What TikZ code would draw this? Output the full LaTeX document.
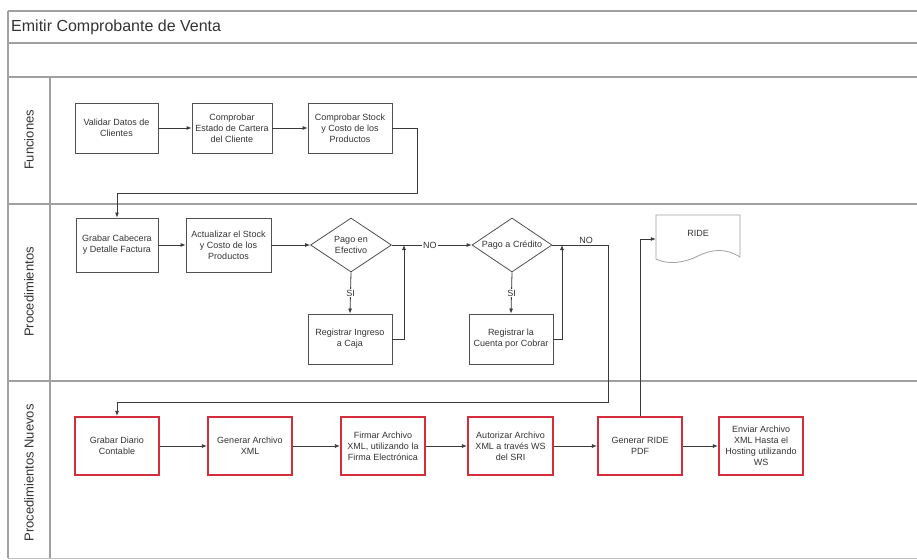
\documentclass[tikz,border=0pt]{standalone}
\usepackage{fontspec}
\setmainfont{Liberation Sans}
\usetikzlibrary{shapes.geometric,arrows.meta,calc}
\definecolor{lanegray}{HTML}{A0A0A0}
\definecolor{boxgray}{HTML}{505050}
\definecolor{txtgray}{HTML}{333333}
\definecolor{conn}{HTML}{3A3A3A}
\definecolor{redbox}{HTML}{D42E3C}
\tikzset{
  lane/.style={draw=lanegray, line width=1.3pt},
  procbox/.style={draw=boxgray, line width=0.8pt, rectangle, align=center, inner sep=1pt,
     font=\fontsize{9}{11}\selectfont, text=txtgray, minimum width=84pt, minimum height=50pt},
  newbox/.style={procbox, draw=redbox, line width=2.2pt, minimum height=58pt},
  decision/.style={draw=boxgray, line width=0.8pt, diamond, inner sep=0pt, minimum width=81pt, minimum height=54pt},
  arr/.style={draw=conn, line width=0.8pt, -{Latex[length=5pt,width=4pt]}},
  lbl/.style={font=\fontsize{9}{11}\selectfont, text=txtgray, inner sep=1pt},
  lanelabel/.style={font=\fontsize{13}{15}\selectfont, text=txtgray, rotate=90}
}
\begin{document}
\begin{tikzpicture}[x=1pt,y=-1pt]
\useasboundingbox (0,0) rectangle (917,559);
% frame and lanes
\draw[lane] (8,11) -- (917,11);
\draw[lane] (8,43) -- (917,43);
\draw[lane] (8,77) -- (917,77);
\draw[lane] (8,204) -- (917,204);
\draw[lane] (8,381) -- (917,381);
\draw[lane, line width=0.8pt, draw=lanegray!70] (8,558) -- (917,558);
\draw[lane] (8,11) -- (8,558);
\draw[lane] (50,77) -- (50,558);
\node[anchor=west, font=\fontsize{16}{18}\selectfont, text=txtgray, inner sep=0pt] (title) at (11,27) {Emitir Comprobante de Venta};
\node[lanelabel] (l1) at (29,140) {Funciones};
\node[lanelabel] (l2) at (29,292) {Procedimientos};
\node[lanelabel] (l3) at (29,473) {Procedimientos Nuevos};

% lane 1
\node[procbox, minimum width=83pt] (v1) at (116.5,128) {Validar Datos de\\Clientes};
\node[procbox, minimum width=80pt] (v2) at (232,128) {Comprobar\\Estado de Cartera\\del Cliente};
\node[procbox] (v3) at (350,128) {Comprobar Stock\\y Costo de los\\Productos};

% lane 2
\node[procbox, minimum width=82pt, minimum height=54pt] (g1) at (117,245) {Grabar Cabecera\\y Detalle Factura};
\node[procbox, minimum width=85pt, minimum height=54pt] (a1) at (228.5,245) {Actualizar el Stock\\y Costo de los\\Productos};
\node[decision, label={[lbl, align=center]center:Pago en\\Efectivo}] (d1) at (351,245) {};
\node[procbox] (r1) at (350,339) {Registrar Ingreso\\a Caja};
\node[decision, minimum width=80pt, label={[lbl]center:Pago a Crédito}] (d2) at (512,245) {};
\node[procbox] (r2) at (511,339) {Registrar la\\Cuenta por Cobrar};

% RIDE document
\draw[draw=lanegray, line width=0.8pt] (656,215) -- (740,215) -- (740,257)
  .. controls (726,248) and (712,249) .. (698,256)
  .. controls (684,263) and (668,265) .. (656,259) -- cycle;
\node[lbl, minimum width=84pt, minimum height=40pt] (ride) at (698,239) {};
\node[lbl] (ridetxt) at (698,233) {RIDE};

% lane 3
\node[newbox] (n1) at (117,446) {Grabar Diario\\Contable};
\node[newbox] (n2) at (250,446) {Generar Archivo\\XML};
\node[newbox] (n3) at (383,446) {Firmar Archivo\\XML, utilizando la\\Firma Electrónica};
\node[newbox, minimum width=85pt] (n4) at (510.5,446) {Autorizar Archivo\\XML a través WS\\del SRI};
\node[newbox] (n5) at (640,446) {Generar RIDE\\PDF};
\node[newbox] (n6) at (761,446) {Enviar Archivo\\XML Hasta el\\Hosting utilizando\\WS};

% connectors lane 1
\draw[arr] (v1) -- (v2);
\draw[arr] (v2) -- (v3);
\coordinate (c1) at (417,193);
\draw[arr] (v3.east) -| (c1) -| (g1.north);

% connectors lane 2
\draw[arr] (g1) -- (a1);
\draw[arr] (a1) -- (d1);
\draw[arr] (d1.east) -- node[lbl, fill=white, midway, xshift=-2pt] (no1) {NO} (d2.west);
\draw[arr] (d1.south) -- node[lbl, fill=white, midway] (si1) {SI} (r1.north);
\coordinate (j1) at (404,245);
\draw[arr] (r1.east) -| (j1);
\draw[arr] (d2.south) -- node[lbl, fill=white, midway] (si2) {SI} (r2.north);
\coordinate (j2) at (562,245);
\draw[arr] (r2.east) -| (j2);
\coordinate (c3) at (608,245);
\coordinate (c2) at (608,402);
\draw[arr] (d2.east) -- node[lbl, above, xshift=6pt] (no2) {NO} (c3) -- (c2) -| (n1.north);

% connectors lane 3
\draw[arr] (n1) -- (n2);
\draw[arr] (n2) -- (n3);
\draw[arr] (n3) -- (n4);
\draw[arr] (n4) -- (n5);
\draw[arr] (n5) -- (n6);
\draw[arr] (n5.north) |- (ride.west);
\end{tikzpicture}
\end{document}
